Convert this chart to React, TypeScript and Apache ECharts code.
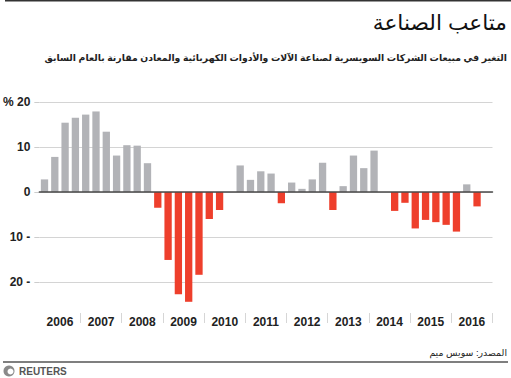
import React, { useEffect, useRef } from "react";
import * as echarts from "echarts";

const years = ["2006", "2007", "2008", "2009", "2010", "2011", "2012", "2013", "2014", "2015", "2016"];
const quarters = ["Q1", "Q2", "Q3", "Q4"];
const categories = years.flatMap((y) => quarters.map((q) => `${y} ${q}`));
const values = [
  2.8, 7.8, 15.4, 16.5, 17.2, 17.9, 13.4, 8.1, 10.4, 10.3, 6.4, -3.5,
  -15.1, -22.7, -24.4, -18.4, -6.0, -4.0, 0, 5.9,
  2.7, 4.6, 4.1, -2.5, 2.1, 0.7, 2.8, 6.5,
  -4.0, 1.3, 8.1, 5.3, 9.2, 0, -4.2, -2.4,
  -8.1, -6.2, -6.7, -7.3, -8.8, 1.7, -3.2,
];
const yTicks = [-20, -10, 0, 10, 20];
const title = "متاعب الصناعة";
const subtitle = "التغير في مبيعات الشركات السويسرية لصناعة الآلات والأدوات الكهربائية والمعادن مقارنة بالعام السابق";
const source = "المصدر: سويس ميم";

const FONT = "Arial, 'Liberation Sans', 'DejaVu Sans', sans-serif";
const GRAY = "#b2b3b7";
const RED = "#ee3f2c";

function fitSize(text: string, weight: string, targetWidth: number, fallback: number): number {
  try {
    const c = document.createElement("canvas").getContext("2d");
    if (!c) return fallback;
    c.font = `${weight} 20px ${FONT}`;
    const w = c.measureText(text).width;
    if (!w) return fallback;
    return Math.round((20 * targetWidth) / w * 10) / 10;
  } catch {
    return fallback;
  }
}

export default function App() {
  const ref = useRef<HTMLDivElement>(null);
  useEffect(() => {
    if (!ref.current) return;
    const chart = echarts.init(ref.current, undefined, { renderer: "svg" });
    const titleSize = fitSize(title, "normal", 134, 22);
    const subSize = fitSize(subtitle, "bold", 464, 10);
    const srcSize = fitSize(source, "normal", 78, 11);
    chart.setOption({
      animation: false,
      backgroundColor: "#ffffff",
      grid: { left: 38.5, width: 454, top: 102, height: 225, containLabel: false },
      xAxis: [
        {
          type: "category",
          data: categories,
          boundaryGap: true,
          axisLine: { show: true, onZero: true, lineStyle: { color: "#4a4a4a", width: 1.5 } },
          axisTick: { show: false },
          axisLabel: { show: false },
          splitLine: { show: false },
          z: 5,
        },
        {
          type: "category",
          data: years,
          position: "bottom",
          offset: -14,
          boundaryGap: true,
          axisLine: { show: false },
          axisTick: {
            show: true,
            length: 10,
            interval: (i: number) => i > 0 && i < years.length,
            lineStyle: { color: "#d6d6d6", width: 1 },
          },
          axisLabel: {
            show: true,
            interval: 0,
            margin: 3,
            fontSize: 12,
            fontWeight: "bold",
            color: "#222",
            fontFamily: FONT,
          },
          splitLine: { show: false },
        },
      ],
      yAxis: {
        type: "value",
        min: -30,
        max: 20,
        interval: 10,
        axisLine: { show: false },
        axisTick: { show: true, length: 5, customValues: yTicks, lineStyle: { color: "#cccccc" } },
        axisLabel: {
          customValues: yTicks,
          margin: 9,
          fontSize: 12,
          fontWeight: "bold",
          color: "#222",
          fontFamily: FONT,
          formatter: (v: number) => (v === 20 ? "% 20" : v < 0 ? `${-v} -` : `${v}`),
        },
        splitLine: { show: true, lineStyle: { color: "#d4d4d4", width: 1 } },
      },
      series: [
        {
          type: "bar",
          xAxisIndex: 0,
          data: values,
          barWidth: "71%",
          itemStyle: { color: (p: any) => (p.value < 0 ? RED : GRAY) },
        },
      ],
      graphic: [
        { type: "line", shape: { x1: 5, y1: 0.75, x2: 511, y2: 0.75 }, style: { stroke: "#333", lineWidth: 1.5 } },
        {
          type: "text",
          style: { text: title, x: 507, y: 22, textAlign: "right", textVerticalAlign: "middle", fontSize: titleSize, fontFamily: FONT, fill: "#111" },
        },
        {
          type: "text",
          style: { text: subtitle, x: 507, y: 58, textAlign: "right", textVerticalAlign: "middle", fontSize: subSize, fontWeight: "bold", fontFamily: FONT, fill: "#222" },
        },
        {
          type: "text",
          style: { text: source, x: 507, y: 352, textAlign: "right", textVerticalAlign: "middle", fontSize: srcSize, fontFamily: FONT, fill: "#222" },
        },
        { type: "line", shape: { x1: 3, y1: 362, x2: 508, y2: 362 }, style: { stroke: "#555", lineWidth: 1.5 } },
        { type: "circle", shape: { cx: 9, cy: 371, r: 5.5 }, style: { fill: "#8a8a8a" } },
        { type: "circle", shape: { cx: 10.5, cy: 371.5, r: 3 }, style: { fill: "#ffffff" } },
        {
          type: "text",
          style: { text: "REUTERS", x: 19, y: 371, textVerticalAlign: "middle", fontSize: 10, fontWeight: "bold", fontFamily: FONT, fill: "#555" },
        },
      ],
    });
    return () => chart.dispose();
  }, []);
  return <div ref={ref} style={{ position: "fixed", left: 0, top: 0, width: 511, height: 378 }} />;
}
